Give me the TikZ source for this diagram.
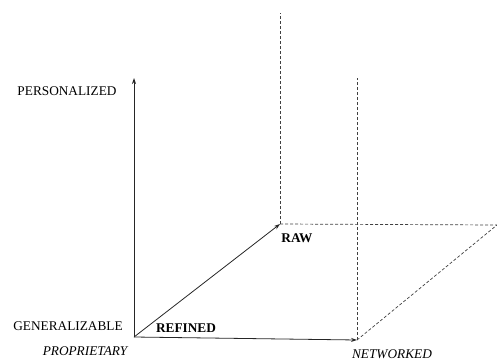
\documentclass[tikz,border=0pt]{standalone}
\usepackage{fontspec}
\setmainfont{Liberation Serif}
\usetikzlibrary{arrows.meta}
\begin{document}
\begin{tikzpicture}[x=1pt,y=-1pt,
  axis/.style={draw=black!85,line width=0.8pt,-{Stealth[length=6pt,width=4pt]}},
  guide/.style={draw=black!75,line width=0.7pt,dash pattern=on 3pt off 2pt},
  lbl/.style={inner sep=0pt,font=\fontsize{13.3}{15}\selectfont},
  blbl/.style={lbl,font=\fontsize{13.3}{15}\selectfont\bfseries},
  ilbl/.style={lbl,font=\fontsize{13.3}{15}\selectfont\itshape}]
\useasboundingbox (0,0) rectangle (497,361);
\coordinate (O) at (134,337);
\coordinate (P) at (134,78);
\coordinate (N) at (357,340);
\coordinate (R) at (280,224);
\coordinate (RT) at (280,13);
\coordinate (NT) at (357,78);
\coordinate (E) at (497,225);
\draw[axis] (O) -- (P);
\draw[axis] (O) -- (N);
\draw[axis] (O) -- (R);
\draw[guide] (R) -- (RT);
\draw[guide] (R) -- (E);
\draw[guide] (N) -- (NT);
\draw[guide] (N) -- (E);
\node[lbl] (personalized) at (67,91) {PERSONALIZED};
\node[lbl] (generalizable) at (68,326) {GENERALIZABLE};
\node[ilbl] (proprietary) at (85,351) {PROPRIETARY};
\node[blbl] (refined) at (186,328) {REFINED};
\node[blbl] (raw) at (297,238) {RAW};
\node[ilbl] (networked) at (392,354) {NETWORKED};
\end{tikzpicture}
\end{document}
